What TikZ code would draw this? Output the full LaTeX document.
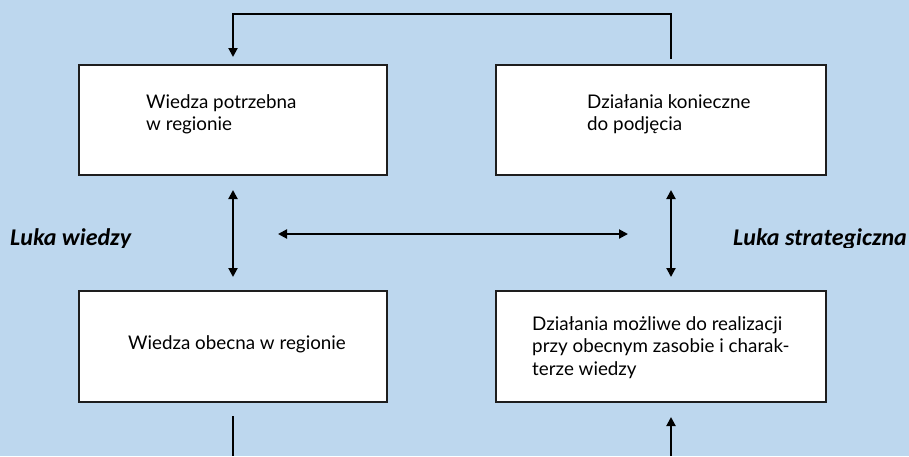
\documentclass[tikz,border=0pt]{standalone}
\usepackage{fontspec}
\setmainfont{Lato}
\newfontfamily\labelfont{Carlito}
\usetikzlibrary{arrows.meta}
\definecolor{bgblue}{HTML}{BDD7EE}
\definecolor{edge}{HTML}{1E1E1E}
\tikzset{
  boxnode/.style={draw=edge, line width=2pt, fill=white, inner sep=0pt, outer sep=0pt, anchor=north west},
  boxtext/.style={inner sep=0pt, anchor=north west, align=left, font=\fontsize{18.8}{22.5}\selectfont},
  gaplabel/.style={inner sep=0pt, anchor=base west, font=\labelfont\bfseries\itshape\fontsize{24}{27}\selectfont},
  conn/.style={line width=2pt, draw=black},
  tip/.style={-{Triangle[length=9pt,width=9pt]}},
  tips/.style={{Triangle[length=9pt,width=9pt]}-{Triangle[length=9pt,width=9pt]}}
}
\begin{document}
\begin{tikzpicture}[x=1pt,y=-1pt]
\fill[bgblue] (0,0) rectangle (909,456);
\useasboundingbox (0,0) rectangle (909,456);
% boxes
\node[boxnode, minimum width=308pt, minimum height=110pt] (b1) at (79,65) {};
\node[boxnode, minimum width=330pt, minimum height=110pt] (b2) at (496,65) {};
\node[boxnode, minimum width=308pt, minimum height=111pt] (b3) at (79,291) {};
\node[boxnode, minimum width=330pt, minimum height=111pt] (b4) at (496,291) {};
% texts
\node[boxtext] (t1) at (146,94) {Wiedza potrzebna\\w regionie};
\node[boxtext] (t2) at (587,94) {Działania konieczne\\do podjęcia};
\node[boxtext] (t3) at (128,335) {Wiedza obecna w regionie};
\node[boxtext] (t4) at (532,316) {Działania możliwe do realizacji\\przy obecnym zasobie i charak-\\terze wiedzy};
% gap labels (clipped at bottom as in the source)
\begin{scope}
\clip (0,0) rectangle (909,247);
\node[gaplabel] (l1) at (10,245) {Luka wiedzy};
\node[gaplabel] (l2) at (733,245) {Luka strategiczna};
\end{scope}
% helper coordinates
\coordinate (topline) at (0,14);
\coordinate (rcol) at (671,0);
\coordinate (b2top) at (rcol |- b2.north);
\coordinate (b4top) at (rcol |- b4.north);
\coordinate (b2bot) at (rcol |- b2.south);
\coordinate (b4bot) at (rcol |- b4.south);
\coordinate (bottomL) at (233,456);
\coordinate (bottomR) at (671,456);
\coordinate (hl) at (278,234);
\coordinate (hr) at (628,234);
% connectors
\draw[conn, tip, shorten <=6pt, shorten >=8pt] (b2top) |- (topline -| b1.north) -- (b1.north);
\draw[conn, tips, shorten <=15pt, shorten >=14pt] (b1.south) -- (b3.north);
\draw[conn, tips, shorten <=15pt, shorten >=14pt] (b2bot) -- (b4top);
\draw[conn, tips] (hl) -- (hr);
\draw[conn, shorten <=14pt] (b3.south) -- (bottomL);
\draw[conn, tip, shorten >=15pt] (bottomR) -- (b4bot);
\end{tikzpicture}
\end{document}
